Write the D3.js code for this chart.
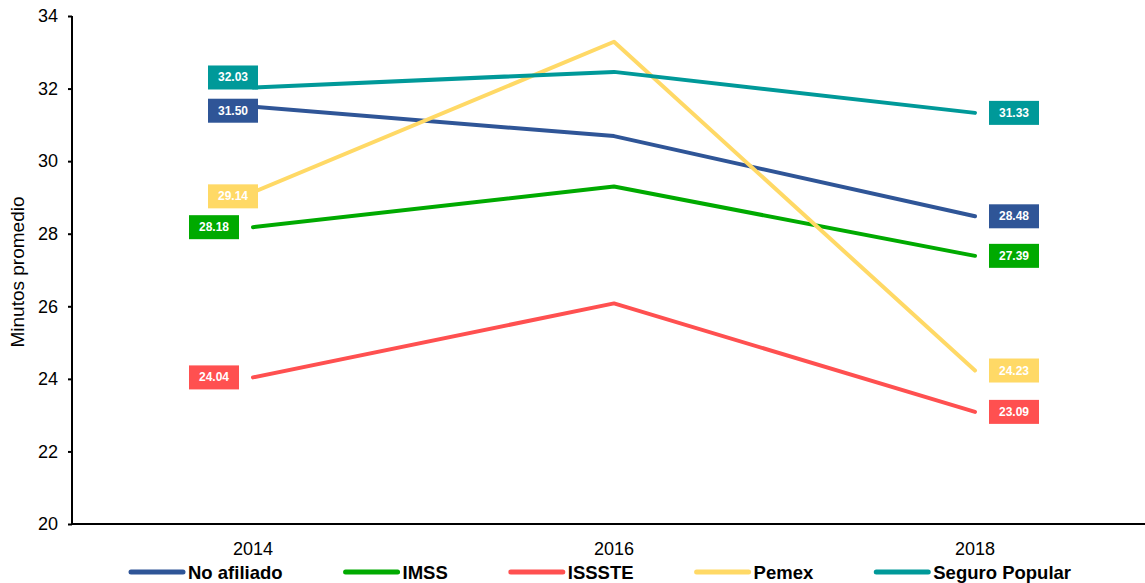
<!doctype html>
<html>
<head>
<meta charset="utf-8" />
<title>Minutos promedio</title>
<script src="https://cdn.jsdelivr.net/npm/d3@7"></script>
<style>
  body { margin: 0; background: #fff; }
  svg text { font-family: "Liberation Sans", Arial, sans-serif; }
</style>
</head>
<body>
<svg id="chart" width="1145" height="583"></svg>
<script>
// data
var years = ['2014', '2016', '2018'];
var seriesNames = ['No afiliado', 'IMSS', 'ISSSTE', 'Pemex', 'Seguro Popular'];
var noAfiliado = [31.50, 30.69, 28.48];
var imss = [28.18, 29.30, 27.39];
var issste = [24.04, 26.08, 23.09];
var pemex = [29.14, 33.29, 24.23];
var seguroPopular = [32.03, 32.46, 31.33];
var yTicks = [20, 22, 24, 26, 28, 30, 32, 34];

var colors = ['#2F5597', '#00AA00', '#FF5050', '#FFD966', '#009999'];
// nudges for the 2014 value boxes so they don't collide
var leftNudge = [[-20, 4], [-39, 0], [-39, 0], [-20, 4], [-20, -10]];

(function() {
    var series = [noAfiliado, imss, issste, pemex, seguroPopular].map(function(v, i) {
        return { name: seriesNames[i], values: v, color: colors[i], nudge: leftNudge[i] };
    });

    var svg = d3.select('#chart');
    var plotLeft = 72, plotBottom = 524, plotTop = 16;

    var x = d3.scalePoint().domain(years).range([253, 975]);
    var y = d3.scaleLinear().domain([20, 34]).range([plotBottom, plotTop]);

    // y axis
    var yAxis = svg.append('g')
        .attr('transform', 'translate(' + plotLeft + ',0)')
        .call(d3.axisLeft(y).tickValues(yTicks).tickSize(4).tickPadding(10).tickFormat(d3.format('d')));
    yAxis.select('.domain').attr('stroke', '#000').attr('stroke-width', 2)
        .attr('d', 'M0,' + plotTop + 'V' + plotBottom);
    yAxis.selectAll('.tick line').attr('stroke', '#000').attr('stroke-width', 2);
    yAxis.selectAll('.tick text').attr('font-size', 18).attr('fill', '#000')
        .style('font-family', '"Liberation Sans", Arial, sans-serif');

    // x axis line and labels
    svg.append('line')
        .attr('x1', plotLeft - 1).attr('x2', 1145)
        .attr('y1', plotBottom).attr('y2', plotBottom)
        .attr('stroke', '#000').attr('stroke-width', 2);

    svg.selectAll('text.year').data(years).enter().append('text')
        .attr('class', 'year')
        .attr('x', function(d) { return x(d); })
        .attr('y', 555)
        .attr('text-anchor', 'middle')
        .attr('font-size', 18)
        .text(function(d) { return d; });

    svg.append('text')
        .attr('transform', 'translate(24,272) rotate(-90)')
        .attr('text-anchor', 'middle')
        .attr('font-size', 18)
        .attr('textLength', 151)
        .attr('lengthAdjust', 'spacingAndGlyphs')
        .text('Minutos promedio');

    // lines
    var line = d3.line()
        .x(function(d, i) { return x(years[i]); })
        .y(function(d) { return y(d); });

    svg.selectAll('path.series').data(series).enter().append('path')
        .attr('class', 'series')
        .attr('d', function(d) { return line(d.values); })
        .attr('fill', 'none')
        .attr('stroke', function(d) { return d.color; })
        .attr('stroke-width', 4)
        .attr('stroke-linecap', 'round')
        .attr('stroke-linejoin', 'round');

    // value boxes
    function box(g, cx, cy, color, val) {
        g.append('rect')
            .attr('x', cx - 25).attr('y', cy - 12)
            .attr('width', 50).attr('height', 24)
            .attr('fill', color);
        g.append('text')
            .attr('x', cx).attr('y', cy + 4)
            .attr('text-anchor', 'middle')
            .attr('font-size', 12)
            .attr('font-weight', 'bold')
            .attr('fill', '#fff')
            .text(d3.format('.2f')(val));
    }

    var labels = svg.append('g');
    series.forEach(function(s) {
        box(labels, x(years[0]) + s.nudge[0], y(s.values[0]) + s.nudge[1], s.color, s.values[0]);
        box(labels, x(years[2]) + 39, y(s.values[2]), s.color, s.values[2]);
    });

    // legend
    var legend = svg.append('g');
    var lx = 131, ly = 572;
    series.forEach(function(s) {
        legend.append('line')
            .attr('x1', lx).attr('x2', lx + 52)
            .attr('y1', ly).attr('y2', ly)
            .attr('stroke', s.color).attr('stroke-width', 5)
            .attr('stroke-linecap', 'round');
        var t = legend.append('text')
            .attr('x', lx + 57).attr('y', ly + 7)
            .attr('font-size', 18.5)
            .attr('font-weight', 'bold')
            .text(s.name);
        lx = lx + 57 + t.node().getComputedTextLength() + 63;
    });
})();
</script>
</body>
</html>
